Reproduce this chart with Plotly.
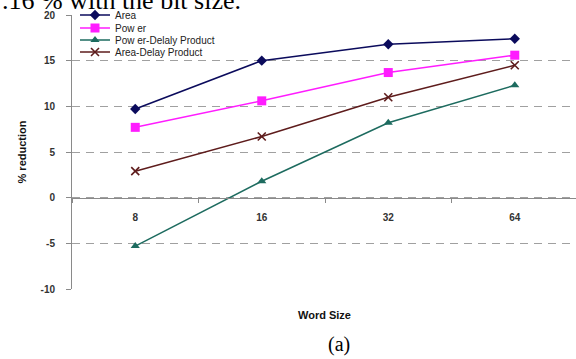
import plotly.graph_objects as go

word_sizes = ["8", "16", "32", "64"]
area = [9.7, 15.0, 16.8, 17.4]
power = [7.7, 10.6, 13.7, 15.6]
power_delay = [-5.3, 1.8, 8.2, 12.3]
area_delay = [2.9, 6.7, 11.0, 14.5]

y_tick_values = [-10, -5, 0, 5, 10, 15, 20]
y_tick_labels = ["-10", "-5", "0", "5", "10", "15", "20"]

series_names = ["Area", "Pow er", "Pow er-Delaly Product", "Area-Delay Product"]
series_values = [area, power, power_delay, area_delay]
colors = ["#0b0b5c", "#ff1cff", "#1d6b5f", "#5e1c1c"]
symbols = ["diamond", "square", "triangle-up", "x-thin"]
msizes = [8, 9, 8, 8]

W, H = 576, 359
ml, mr, mt, mb = 72, 0, 15, 70
ph = H - mt - mb
pw = W - ml - mr

def py(pix):
    return (H - mb - pix) / ph

def px(pix):
    return (pix - ml) / pw

fig = go.Figure()
legend_rows = [15, 28, 40, 52]
for i, (name, vals) in enumerate(zip(series_names, series_values)):
    lg = "legend" if i == 0 else f"legend{i+1}"
    marker = dict(color=colors[i], size=msizes[i], symbol=symbols[i])
    if symbols[i] == "x-thin":
        marker["line"] = dict(color=colors[i], width=1.6)
    fig.add_trace(go.Scatter(
        x=word_sizes, y=vals, name=name, mode="lines+markers",
        line=dict(color=colors[i], width=1.5),
        marker=marker, legend=lg, cliponaxis=False,
    ))

legend_common = dict(
    xanchor="left", yanchor="middle", bgcolor="rgba(0,0,0,0)",
    font=dict(family="Liberation Sans, Arial", size=10, color="#222"),
    itemwidth=30, borderwidth=0, tracegroupgap=0,
)
layout_legends = {}
for i, row in enumerate(legend_rows):
    key = "legend" if i == 0 else f"legend{i+1}"
    layout_legends[key] = dict(x=px(75), y=py(row), **legend_common)

fig.update_layout(
    width=W, height=H,
    margin=dict(l=ml, r=mr, t=mt, b=mb, autoexpand=False),
    paper_bgcolor="white", plot_bgcolor="white",
    showlegend=True,
    **layout_legends,
    xaxis=dict(
        type="category", categoryorder="array", categoryarray=word_sizes,
        range=[-0.5, 3.484], anchor="free", position=1/3,
        showline=True, linecolor="#8a8a8a", linewidth=1,
        ticks="outside", ticklen=4, tickcolor="#8a8a8a", tickson="boundaries",
        showgrid=False, zeroline=False,
        ticklabelstandoff=10,
        tickfont=dict(family="Liberation Sans, Arial", size=10, color="#333", weight="bold"),
    ),
    yaxis=dict(
        range=[-10, 20], tickmode="array", tickvals=y_tick_values, ticktext=y_tick_labels,
        showline=True, linecolor="#8a8a8a", linewidth=1,
        ticks="outside", ticklen=5, tickcolor="#8a8a8a",
        ticklabelstandoff=9,
        showgrid=True, gridcolor="#a0a0a0", gridwidth=1, griddash="8px,6px",
        zeroline=False,
        tickfont=dict(family="Liberation Sans, Arial", size=10, color="#333", weight="bold"),
        title=dict(text="% reduction", standoff=11,
                   font=dict(family="Liberation Sans, Arial", size=11, color="#111", weight="bold")),
    ),
    annotations=[
        dict(text="Word Size", xref="paper", yref="paper", x=px(324), y=py(315),
             xanchor="center", yanchor="middle", showarrow=False,
             font=dict(family="Liberation Sans, Arial", size=11, color="#111", weight="bold")),
        dict(text="(a)", xref="paper", yref="paper", x=px(339), y=py(344),
             xanchor="center", yanchor="middle", showarrow=False,
             font=dict(family="Liberation Serif, Times New Roman", size=20, color="#000")),
        dict(text=".16 % with the bit size.", xref="paper", yref="paper", x=px(0), y=py(1),
             xanchor="left", yanchor="middle", showarrow=False,
             font=dict(family="Liberation Serif, Times New Roman", size=26, color="#000")),
    ],
)

fig.write_html("out.html", config={"displayModeBar": False},
               post_script="document.body.style.margin='0px';")
